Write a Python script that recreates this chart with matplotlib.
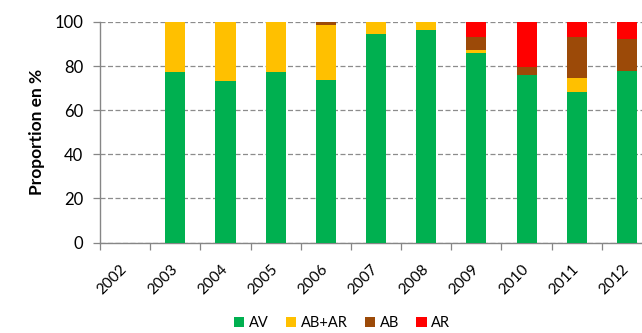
import matplotlib
matplotlib.use("Agg")
import matplotlib.pyplot as plt
import numpy as np
from matplotlib.patches import Patch
from matplotlib.transforms import ScaledTranslation

plt.rcParams['font.family'] = ['Lato', 'DejaVu Sans']

years = ['2002', '2003', '2004', '2005', '2006', '2007', '2008', '2009', '2010', '2011', '2012']
av    = [0, 77.2, 73.2, 77.3, 73.5, 94.6, 96.4, 85.8, 76.0, 68.1, 77.9]
ab_ar = [0, 22.8, 26.8, 22.7, 25.3, 5.4, 3.6, 1.5, 0.0, 6.6, 0.0]
ab    = [0, 0.0, 0.0, 0.0, 1.2, 0.0, 0.0, 6.0, 3.5, 18.6, 14.2]
ar    = [0, 0.0, 0.0, 0.0, 0.0, 0.0, 0.0, 6.7, 20.5, 6.7, 7.9]

series = [('AV', av, '#00B050'), ('AB+AR', ab_ar, '#FFC000'),
          ('AB', ab, '#9C4A08'), ('AR', ar, '#FF0000')]

fig = plt.figure(figsize=(6.42, 3.33), dpi=100)
ax = fig.add_axes([100/642, (333-242.5)/333, 542/642, 220.5/333])

x = np.arange(len(years))
bottom = np.zeros(len(years))
for name, vals, col in series:
    vals = np.array(vals)
    ax.bar(x, vals, width=0.4, bottom=bottom, color=col, label=name, zorder=3)
    bottom += vals

ax.set_xlim(-0.5, 10.3)
ax.set_ylim(0, 100)
ax.set_yticks(np.arange(0, 101, 20))
ax.yaxis.grid(True, linestyle=(0, (4, 2)), color='#8c8c8c', linewidth=0.9, zorder=1)

ax.set_xticks(x)
ax.set_xticklabels(years, rotation=45, ha='right', va='top', rotation_mode='anchor', fontsize=11)
ax.tick_params(axis='x', which='major', length=0, pad=14)
ax.set_xticks(np.arange(-0.5, 10.4, 1.0), minor=True)
ax.tick_params(axis='x', which='minor', length=5, color='#868686', width=0.9)
ax.tick_params(axis='y', length=5, color='#868686', width=0.9, labelsize=12, pad=7)
for lbl in ax.get_xticklabels():
    lbl.set_transform(lbl.get_transform() + ScaledTranslation(-5/100, 0, fig.dpi_scale_trans))

for s in ['top', 'right']:
    ax.spines[s].set_visible(False)
for s in ['left', 'bottom']:
    ax.spines[s].set_color('#868686')
    ax.spines[s].set_linewidth(1.0)

ax.set_ylabel('Proportion en %', fontsize=12.5, fontweight='bold', labelpad=7)

handles = [Patch(facecolor=c, edgecolor='none') for _, _, c in series]
fig.legend(handles, [n for n, _, _ in series], loc='center', bbox_to_anchor=(342/642, 1-323/333),
           ncol=4, frameon=False, fontsize=10.5, handlelength=0.7, handleheight=0.7,
           handletextpad=0.3, columnspacing=1.2)

fig.savefig('out.png', dpi=100)
